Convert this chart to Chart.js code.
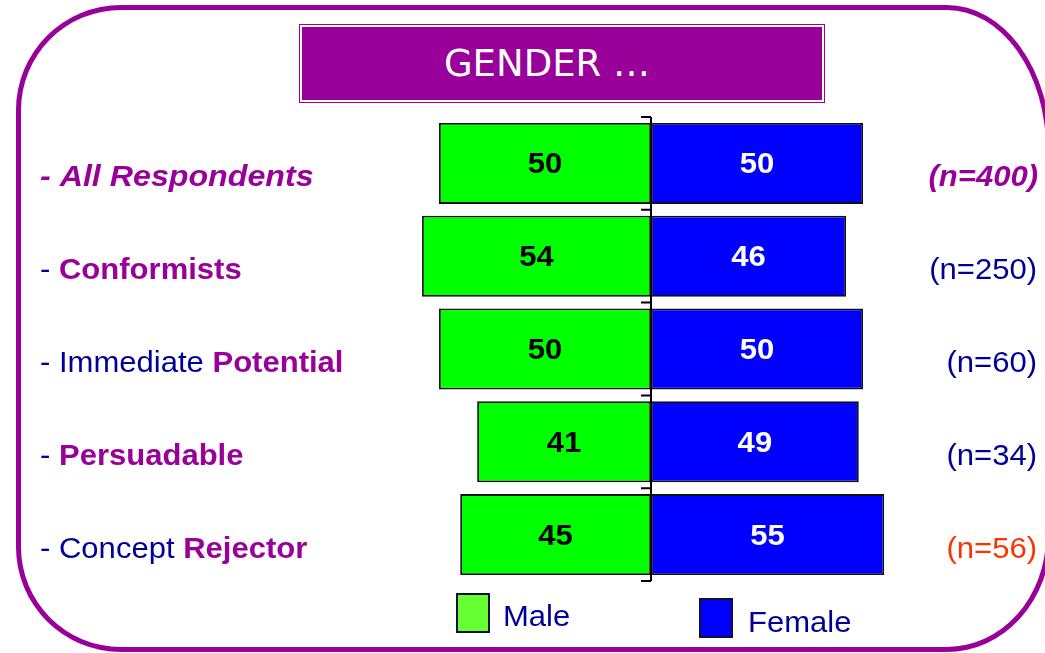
<html>
<head>
<meta charset="utf-8">
<script src="https://cdn.jsdelivr.net/npm/chart.js@4.4.1/dist/chart.umd.min.js"></script>
<style>
body { margin:0; width:1045px; height:653px; overflow:hidden; background:#fff; position:relative; }
#frame { position:absolute; left:16px; top:5px; width:1035px; height:647px; box-sizing:border-box;
  border:5px solid #990099;
  border-top-left-radius:105px; border-bottom-left-radius:105px;
  border-top-right-radius:104px 144px; border-bottom-right-radius:104px 116px; }
#title { position:absolute; left:299px; top:24px; width:526px; height:79px; box-sizing:border-box;
  border:1.5px solid #990099; background:#fff; padding:2px; }
#title div { width:100%; height:100%; background:#990099; color:#fff; box-sizing:border-box; padding-right:30px;
  display:flex; align-items:center; justify-content:center;
  font-family:"Comic Sans MS","DejaVu Sans",sans-serif; font-size:37px; }
#c { position:absolute; left:0; top:0; }
</style>
</head>
<body>
<div id="frame"></div>
<div id="title"><div>GENDER …</div></div>
<canvas id="c" width="1045" height="653"></canvas>
<script>
// data
var categories = ['All Respondents', 'Conformists', 'Immediate Potential', 'Persuadable', 'Concept Rejector'];
var sampleSizes = ['(n=400)', '(n=250)', '(n=60)', '(n=34)', '(n=56)'];
var maleShare = [50, 54, 50, 41, 45];
var femaleShare = [50, 46, 50, 49, 55];
var seriesNames = ['Male', 'Female'];

var PURPLE = '#990099', NAVY = '#000099', ORANGE = '#FF3300';
var FONT = '"Liberation Sans", Arial, sans-serif';
var rowStyle = ['total', 'group', 'group', 'group', 'reject'];

function txt(ctx, s, x, y, font, color, align, stretch) {
  // source text is a bit wider than Arial, stretch a little
  var sx = stretch || 1.07;
  ctx.save();
  ctx.font = font;
  ctx.fillStyle = color;
  ctx.textAlign = align || 'left';
  ctx.textBaseline = 'alphabetic';
  ctx.translate(x, y);
  ctx.scale(sx, 1);
  ctx.fillText(s, 0, 0);
  var w = ctx.measureText(s).width * sx;
  ctx.restore();
  return w;
}

var overlay = {
  id: 'overlay',
  afterDatasetsDraw: function(chart) {
    var ctx = chart.ctx, xs = chart.scales.x, ys = chart.scales.y, ca = chart.chartArea;
    var x0 = xs.getPixelForValue(0);
    var step = (ca.bottom - ca.top) / categories.length;

    // centre axis with small ticks at category edges
    ctx.save();
    ctx.strokeStyle = '#000';
    ctx.lineWidth = 2;
    ctx.beginPath();
    ctx.moveTo(x0, ca.top);
    ctx.lineTo(x0, ca.bottom);
    for (var k = 0; k <= categories.length; k++) {
      var ty = ca.top + k * step;
      ctx.moveTo(x0 - 10, ty);
      ctx.lineTo(x0, ty);
    }
    ctx.stroke();
    ctx.restore();

    var reg = '29px ' + FONT, bold = 'bold 29px ' + FONT, bi = 'italic bold 29px ' + FONT;

    // values inside the bars
    chart.data.datasets.forEach(function(ds, di) {
      chart.getDatasetMeta(di).data.forEach(function(bar, i) {
        var v = Math.abs(ds.data[i]);
        var cx = (bar.x + bar.base) / 2;
        txt(ctx, String(v), cx, bar.y + 10, bold, di === 0 ? '#000' : '#fff', 'center');
      });
    });

    // category labels and n
    categories.forEach(function(name, i) {
      var y = ys.getPixelForValue(i) + 23;
      var st = rowStyle[i];
      if (st === 'total') {
        txt(ctx, '- ' + name, 40, y, bi, PURPLE, 'left', 1.11);
        txt(ctx, sampleSizes[i], 1038, y, bi, PURPLE, 'right');
        return;
      }
      var words = name.split(' ');
      var last = words.pop();
      var x = 40;
      x += txt(ctx, '- ' + (words.length ? words.join(' ') + ' ' : ''), x, y, reg, NAVY);
      txt(ctx, last, x, y, bold, PURPLE);
      txt(ctx, sampleSizes[i], 1037, y, reg, st === 'reject' ? ORANGE : NAVY, 'right');
    });

    // legend
    var leg = [
      {x: 457, y: 594, fill: '#66FF33', tx: 503, ty: 626},
      {x: 700, y: 599, fill: '#0000FF', tx: 748, ty: 632}
    ];
    leg.forEach(function(l, i) {
      ctx.save();
      ctx.fillStyle = l.fill;
      ctx.fillRect(l.x, l.y, 32, 38);
      ctx.strokeStyle = '#111133';
      ctx.lineWidth = 2;
      ctx.strokeRect(l.x, l.y, 32, 38);
      ctx.restore();
      txt(ctx, seriesNames[i], l.tx, l.ty, reg, NAVY);
    });
  }
};

new Chart(document.getElementById('c'), {
  type: 'bar',
  data: {
    labels: categories,
    datasets: [
      { label: seriesNames[0], data: maleShare.map(function(v) { return -v; }),
        backgroundColor: '#00FF00', borderColor: '#111', borderWidth: 1.8, borderSkipped: false },
      { label: seriesNames[1], data: femaleShare,
        backgroundColor: '#0000FF', borderColor: '#111', borderWidth: 1.8, borderSkipped: false }
    ]
  },
  options: {
    indexAxis: 'y',
    responsive: false,
    animation: false,
    devicePixelRatio: 1,
    layout: { padding: { left: 396.6, right: 139.6, top: 117, bottom: 72 } },
    datasets: { bar: { barPercentage: 0.873, categoryPercentage: 1 } },
    scales: {
      x: { display: false, stacked: true, min: -60, max: 60 },
      y: { display: false, stacked: true }
    },
    plugins: { legend: { display: false }, tooltip: { enabled: false } }
  },
  plugins: [overlay]
});
</script>
</body>
</html>
